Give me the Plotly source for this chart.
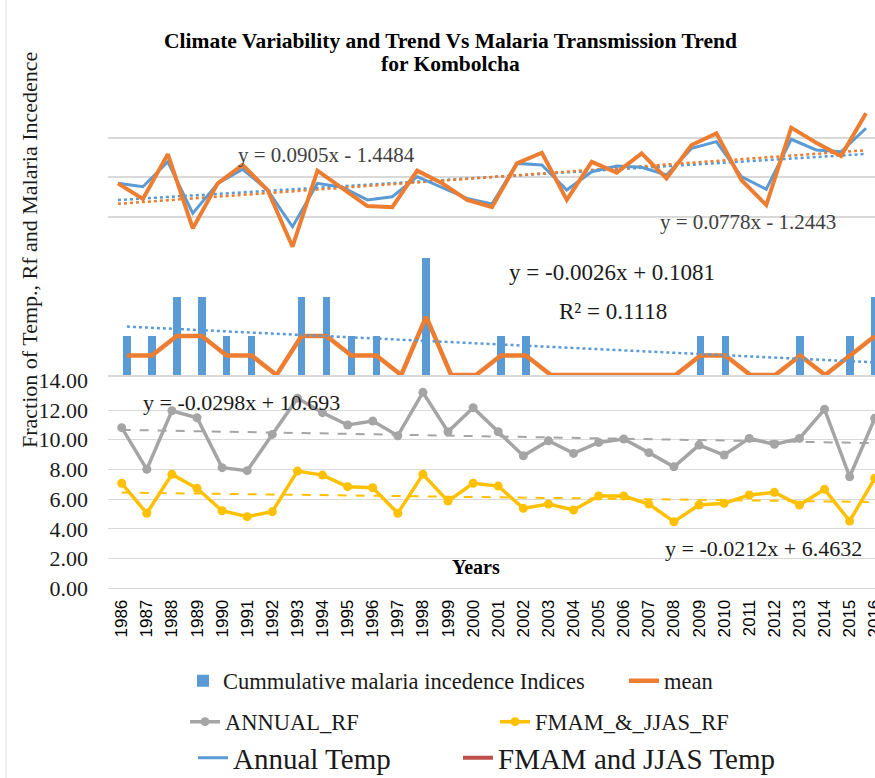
import plotly.graph_objects as go

# ---------------- data ----------------
years = list(range(1986, 2017))
year_index = list(range(1, 32))

malaria_indices = [0.085, 0.085, 0.17, 0.17, 0.085, 0.085, 0.0, 0.17, 0.17, 0.085,
                   0.085, 0.0, 0.255, 0.0, 0.0, 0.085, 0.085, 0.0, 0.0, 0.0,
                   0.0, 0.0, 0.0, 0.085, 0.085, 0.0, 0.0, 0.085, 0.0, 0.085, 0.17]
malaria_mean = [0.0425, 0.0425, 0.085, 0.085, 0.0425, 0.0425, 0.0, 0.085, 0.085, 0.0425,
                0.0425, 0.0, 0.1275, 0.0, 0.0, 0.0425, 0.0425, 0.0, 0.0, 0.0,
                0.0, 0.0, 0.0, 0.0425, 0.0425, 0.0, 0.0, 0.0425, 0.0, 0.0425, 0.085]

annual_temp = [-0.32, -0.49, 0.77, -1.84, -0.32, 0.39, -0.66, -2.52, -0.32, -0.52,
               -1.16, -1.00, 0.02, -0.52, -1.08, -1.37, 0.69, 0.61, -0.66, 0.27,
               0.56, 0.49, 0.10, 1.45, 1.79, 0.02, -0.62, 1.91, 1.37, 1.28, 2.47]
fmam_jjas_temp = [-0.32, -1.11, 1.16, -2.60, -0.32, 0.61, -0.66, -3.53, 0.32, -0.57,
                  -1.47, -1.53, 0.32, -0.32, -1.16, -1.52, 0.69, 1.23, -1.16, 0.77,
                  0.22, 1.20, -0.07, 1.62, 2.21, -0.15, -1.42, 2.50, 1.74, 1.06, 3.23]

annual_rf = [10.81, 8.01, 11.95, 11.48, 8.12, 7.92, 10.36, 12.8, 11.82, 10.99,
             11.26, 10.27, 13.19, 10.54, 12.15, 10.54, 8.92, 9.93, 9.08, 9.82,
             10.05, 9.13, 8.18, 9.64, 8.97, 10.09, 9.69, 10.09, 12.05, 7.51, 11.44]
fmam_jjas_rf = [7.07, 5.05, 7.67, 6.73, 5.22, 4.82, 5.16, 7.89, 7.62, 6.84,
                6.77, 5.05, 7.67, 5.87, 7.07, 6.88, 5.38, 5.67, 5.27, 6.21,
                6.21, 5.67, 4.48, 5.61, 5.72, 6.28, 6.46, 5.61, 6.66, 4.53, 7.40]

rf_ticks = [0, 2, 4, 6, 8, 10, 12, 14]

# trend equations printed on the chart (slope, intercept), x = 1..31
eq_fmam_temp = (0.0905, -1.4484)
eq_annual_temp = (0.0778, -1.2443)
eq_malaria = (-0.0026, 0.1081)
eq_annual_rf = (-0.0298, 10.693)
eq_fmam_rf = (-0.0212, 6.4632)


def trend(eq):
    return [eq[0] * i + eq[1] for i in year_index]


# ---------------- layout helpers ----------------
W, H = 875, 778
ML = 108
PW = W - ML


def px(x):
    return (x - ML) / PW


def py(y):
    return 1 - y / H


SERIF = "Liberation Serif, Times New Roman, serif"
SANS = "Liberation Sans, Arial, sans-serif"

BLUE = "#5B9BD5"
ORANGE = "#ED7D31"
GREY = "#A5A5A5"
YELLOW = "#FFC000"
GRID = "#D9D9D9"

fig = go.Figure()

# ---- malaria bars + mean (x2 / y2) ----
fig.add_trace(go.Bar(x=years, y=malaria_indices, xaxis="x2", yaxis="y2",
                     marker=dict(color=BLUE, line=dict(width=0)), width=0.3,
                     name="Cummulative malaria incedence Indices", legend="legend",
                     legendwidth=396))
fig.add_trace(go.Scatter(x=years, y=malaria_mean, xaxis="x2", yaxis="y2", mode="lines",
                         line=dict(color=ORANGE, width=4.5), name="mean", legend="legend"))
fig.add_trace(go.Scatter(x=years, y=trend(eq_malaria), xaxis="x2", yaxis="y2", mode="lines",
                         line=dict(color=BLUE, width=2.5, dash="dot"), showlegend=False))

# ---- rainfall (x / y) ----
fig.add_trace(go.Scatter(x=years, y=trend(eq_annual_rf), mode="lines",
                         line=dict(color=GREY, width=2, dash="dash"), showlegend=False))
fig.add_trace(go.Scatter(x=years, y=trend(eq_fmam_rf), mode="lines",
                         line=dict(color=YELLOW, width=2, dash="dash"), showlegend=False))
fig.add_trace(go.Scatter(x=years, y=annual_rf, mode="lines+markers",
                         line=dict(color=GREY, width=3.5), marker=dict(color=GREY, size=9),
                         name="ANNUAL_RF", legend="legend2", legendwidth=265))
fig.add_trace(go.Scatter(x=years, y=fmam_jjas_rf, mode="lines+markers",
                         line=dict(color=YELLOW, width=3.5), marker=dict(color=YELLOW, size=9),
                         name="FMAM_&_JJAS_RF", legend="legend2"))

# ---- temperature (x3 / y3) ----
fig.add_trace(go.Scatter(x=years, y=trend(eq_annual_temp), xaxis="x3", yaxis="y3", mode="lines",
                         line=dict(color=BLUE, width=2.5, dash="dot"), showlegend=False))
fig.add_trace(go.Scatter(x=years, y=trend(eq_fmam_temp), xaxis="x3", yaxis="y3", mode="lines",
                         line=dict(color=ORANGE, width=2.5, dash="dot"), showlegend=False))
fig.add_trace(go.Scatter(x=years, y=annual_temp, xaxis="x3", yaxis="y3", mode="lines",
                         line=dict(color=BLUE, width=3), name="Annual Temp", legend="legend3",
                         legendwidth=220))
fig.add_trace(go.Scatter(x=years, y=fmam_jjas_temp, xaxis="x3", yaxis="y3", mode="lines",
                         line=dict(color=ORANGE, width=4), showlegend=False))
fig.add_trace(go.Scatter(x=[None], y=[None], xaxis="x3", yaxis="y3", mode="lines",
                         line=dict(color="#C0504D", width=4), name="FMAM and JJAS Temp",
                         legend="legend3"))

# ---------------- axes ----------------
fig.update_layout(
    width=W, height=H,
    margin=dict(l=ML, r=0, t=0, b=0, autoexpand=False),
    paper_bgcolor="white", plot_bgcolor="white",
    showlegend=True,
    bargap=0,
    xaxis=dict(domain=[0, 1], anchor="y", range=[1985.454, 2016.01],
               tickmode="array", tickvals=years, ticktext=[str(y) for y in years],
               tickangle=-90, ticks="", showgrid=False, zeroline=False, showline=False,
               tickfont=dict(family=SANS, size=17, color="black"),
               ticklabelstandoff=7, ticklabeloverflow="allow", automargin=False),
    yaxis=dict(domain=[py(588.3), py(380.3)], anchor="x", range=[0, 14],
               tickmode="array", tickvals=rf_ticks, tickformat=".2f",
               showgrid=True, gridcolor=GRID, gridwidth=1,
               zeroline=True, zerolinecolor=GRID, zerolinewidth=1, showline=False, ticks="",
               tickfont=dict(family=SERIF, size=22, color="#1a1a1a"),
               ticklabelstandoff=19, automargin=False),
    xaxis2=dict(domain=[0, 1], anchor="y2", range=[1985.24, 2016.0],
                showticklabels=False, ticks="", showgrid=False, zeroline=False,
                showline=True, linecolor=GRID, linewidth=1.5),
    yaxis2=dict(domain=[py(375), py(250)], anchor="x2", range=[0, 0.2725],
                visible=False, showgrid=False),
    xaxis3=dict(domain=[0, 1], anchor="y3", range=[1985.6, 2016.36], visible=False),
    yaxis3=dict(domain=[py(250), py(100)], anchor="x3", range=[-3.696, 3.90],
                tickmode="linear", tick0=0, dtick=2, showgrid=True, gridcolor=GRID,
                gridwidth=1.5, zeroline=False, showticklabels=False, ticks="", showline=False),
    legend=dict(orientation="h", x=px(183), xanchor="left", y=py(681), yanchor="middle",
                bgcolor="rgba(0,0,0,0)",
                font=dict(family=SERIF, size=22.5, color="#1a1a1a")),
    legend2=dict(orientation="h", x=px(185), xanchor="left", y=py(722), yanchor="middle",
                 bgcolor="rgba(0,0,0,0)",
                 font=dict(family=SERIF, size=22.5, color="#1a1a1a")),
    legend3=dict(orientation="h", x=px(193), xanchor="left", y=py(758), yanchor="middle",
                 bgcolor="rgba(0,0,0,0)",
                 font=dict(family=SERIF, size=29, color="#1a1a1a")),
)

# ---------------- text ----------------
ann = []


def add_text(text, x, y, size, color="#262626", bold=False, angle=0):
    ann.append(dict(text=("<b>%s</b>" % text) if bold else text,
                    x=px(x), y=py(y), xref="paper", yref="paper",
                    xanchor="center", yanchor="middle", showarrow=False,
                    textangle=angle, font=dict(family=SERIF, size=size, color=color)))


add_text("Climate Variability and Trend Vs Malaria Transmission Trend", 450, 41, 21.5, "black", True)
add_text("for Kombolcha", 450, 64, 21.5, "black", True)
add_text("Fraction of Temp., Rf and Malaria Incedence", 30, 250, 22, "#1a1a1a", angle=-90)
add_text("y = 0.0905x - 1.4484", 326, 155, 21, "#404040")
add_text("y = 0.0778x - 1.2443", 748, 222, 21, "#404040")
add_text("y = -0.0026x + 0.1081", 612, 272, 23, "#1a1a1a")
add_text("R² = 0.1118", 613, 311, 23, "#1a1a1a")
add_text("y = -0.0298x + 10.693", 241, 403, 22, "#1a1a1a")
add_text("y = -0.0212x + 6.4632", 763, 548, 22, "#1a1a1a")
add_text("Years", 476, 567, 20, "black", True)

fig.update_layout(annotations=ann)

# faint chart border on the left
fig.add_shape(type="line", xref="paper", yref="paper", x0=px(6), x1=px(6), y0=0, y1=1,
              line=dict(color="#E3E3E3", width=1))

fig.write_html("out.html", config={"displayModeBar": False},
               post_script="document.body.style.margin='0';document.body.style.overflow='hidden';")
